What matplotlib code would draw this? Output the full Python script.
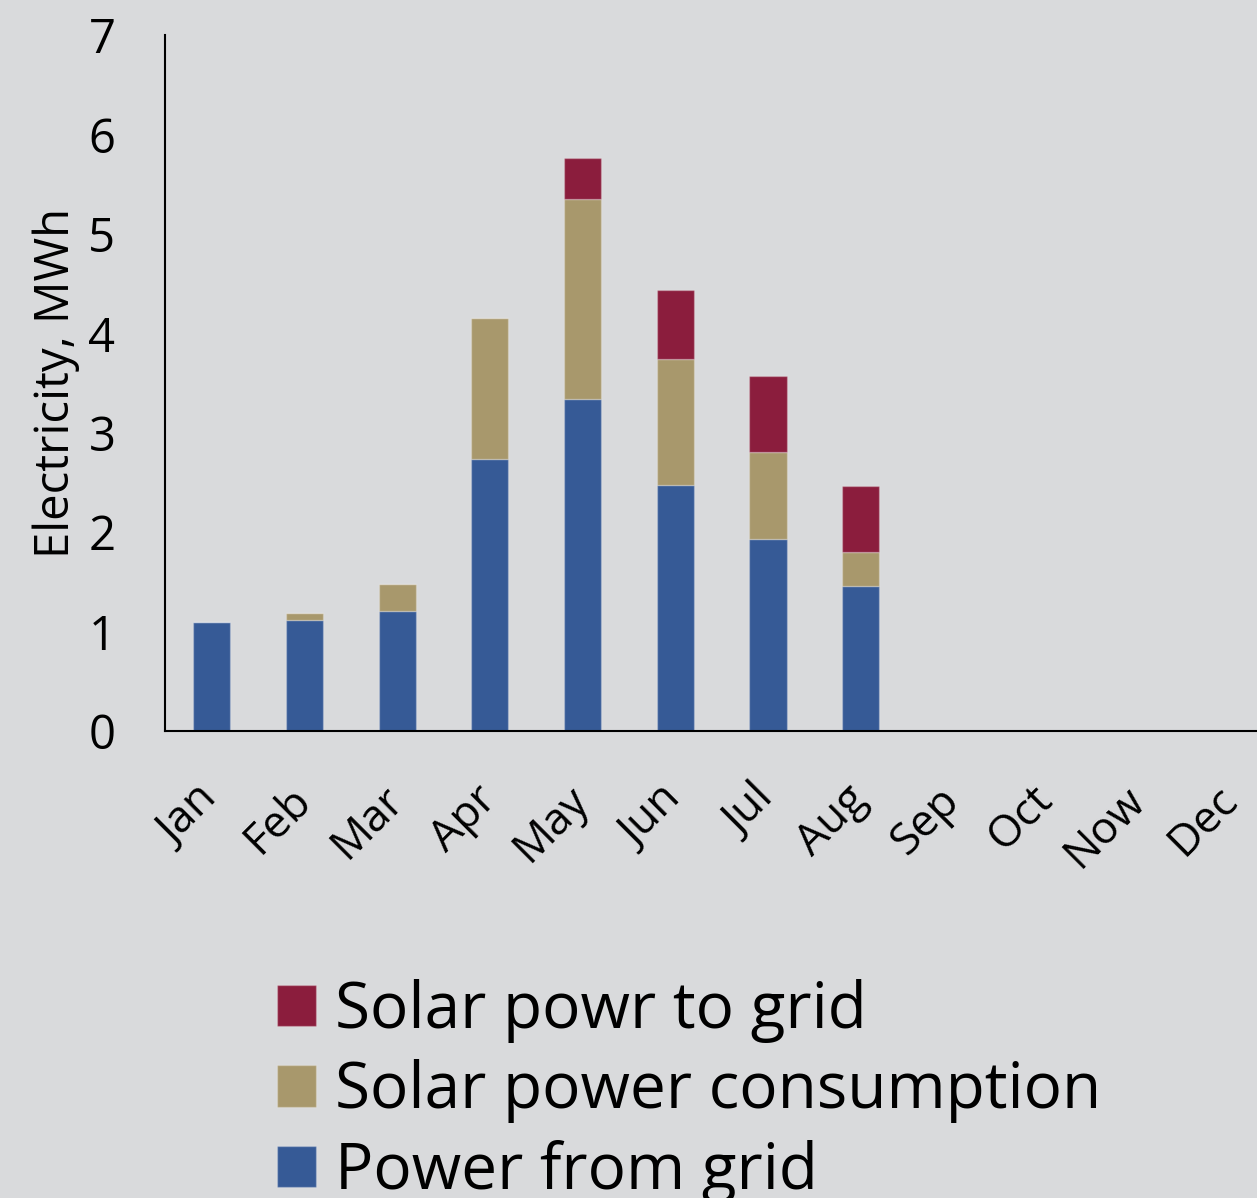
import numpy as np
import matplotlib
matplotlib.use('Agg')
import matplotlib.pyplot as plt
from matplotlib import rcParams

rcParams['font.family'] = ['Open Sans', 'DejaVu Sans']

months = ['Jan', 'Feb', 'Mar', 'Apr', 'May', 'Jun', 'Jul', 'Aug', 'Sep', 'Oct', 'Now', 'Dec']
grid_in = [1.10, 1.12, 1.21, 2.74, 3.34, 2.47, 1.93, 1.46, 0, 0, 0, 0]
solar_use = [0.00, 0.07, 0.27, 1.41, 2.01, 1.27, 0.88, 0.34, 0, 0, 0, 0]
solar_out = [0.00, 0.00, 0.00, 0.00, 0.41, 0.70, 0.76, 0.66, 0, 0, 0, 0]

bg = '#d9dadc'
c_grid = '#365a96'
c_use = '#a8986c'
c_out = '#8b1d3d'

fig = plt.figure(figsize=(12.57, 11.98), dpi=100, facecolor=bg)
ax = fig.add_axes([0.1316, 0.3898, 0.885, 0.581])
ax.set_facecolor(bg)

x = np.arange(len(months))
w = 0.4
edge = (1, 1, 1, 0.25)
b1 = ax.bar(x, grid_in, w, color=c_grid, edgecolor=edge, linewidth=1, label='Power from grid')
b2 = ax.bar(x, solar_use, w, bottom=grid_in, color=c_use, edgecolor=edge, linewidth=1,
            label='Solar power consumption')
bot2 = np.array(grid_in) + np.array(solar_use)
b3 = ax.bar(x, solar_out, w, bottom=bot2, color=c_out, edgecolor=edge, linewidth=1,
            label='Solar powr to grid')

ax.set_xlim(-0.5, 11.5)
ax.set_ylim(0, 7)
ax.set_yticks(range(0, 8))
ax.set_xticks(x)
ax.set_xticklabels(months, rotation=45, ha='right', va='center', rotation_mode='anchor')

for s in ['top', 'right']:
    ax.spines[s].set_visible(False)
for s in ['left', 'bottom']:
    ax.spines[s].set_linewidth(1.5)
    ax.spines[s].set_color('black')

ax.tick_params(axis='y', length=0, pad=36, labelsize=34)
ax.tick_params(axis='x', length=0, pad=45, labelsize=32)
ax.set_ylabel('Electricity, MWh', fontsize=34, labelpad=6)

fig.legend(handles=[b3, b2, b1], loc='upper left', bbox_to_anchor=(0.22, 0.183),
           frameon=False, fontsize=46, handlelength=0.62, handleheight=0.62,
           handletextpad=0.3, labelspacing=0.26, borderpad=0, borderaxespad=0)

fig.savefig('out.png', dpi=100, facecolor=bg)
